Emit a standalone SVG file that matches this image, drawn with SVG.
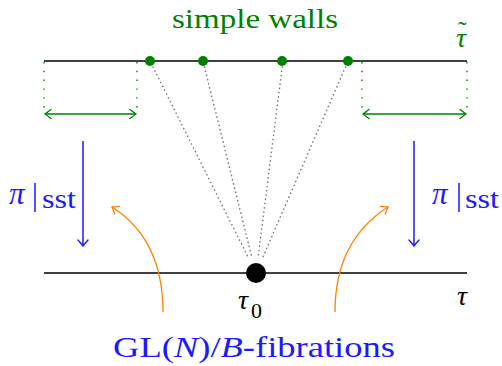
<svg xmlns="http://www.w3.org/2000/svg" width="502" height="366" viewBox="0 0 502 366">
<style>
.serif{font-family:"Liberation Serif","Times New Roman",serif}
.it{font-style:italic}
.axis{stroke:#000;stroke-width:1.3;fill:none}
.gdot{stroke:#008000;stroke-width:1.4;stroke-dasharray:1.4 7.4;fill:none}
.gray{stroke:#777;stroke-width:1.6;stroke-dasharray:0.1 4.2;stroke-linecap:round;fill:none}
.blue{stroke:#1a1aff;stroke-width:1.5;fill:none}
.orange{stroke:#ff8000;stroke-width:1.3;fill:none}
.green{stroke:#008000;stroke-width:1.3;fill:none}
</style>
<defs>
<marker id="hb" markerUnits="userSpaceOnUse" viewBox="-8 -6 10 12" refX="0" refY="0" markerWidth="10" markerHeight="12" orient="auto-start-reverse"><path d="M-6,-5 Q-1.5,-1 0,0 Q-1.5,1 -6,5" stroke="#1a1aff" stroke-width="1.4" fill="none" stroke-linecap="round"/></marker>
<marker id="ho" markerUnits="userSpaceOnUse" viewBox="-8 -6 10 12" refX="0" refY="0" markerWidth="10" markerHeight="12" orient="auto-start-reverse"><path d="M-6,-4.5 Q-1.5,-1 0,0 Q-1.5,1 -6,4.5" stroke="#ff8000" stroke-width="1.3" fill="none" stroke-linecap="round"/></marker>
<marker id="hg" markerUnits="userSpaceOnUse" viewBox="-8 -6 10 12" refX="0" refY="0" markerWidth="10" markerHeight="12" orient="auto-start-reverse"><path d="M-6,-4.5 Q-1.5,-1 0,0 Q-1.5,1 -6,4.5" stroke="#008000" stroke-width="1.3" fill="none" stroke-linecap="round"/></marker>
</defs>

<g id="connectors">
<line class="axis" x1="44" y1="61" x2="467" y2="61"/>
<line class="axis" x1="44" y1="273" x2="467" y2="273"/>
<line class="gdot" x1="44" y1="62" x2="44" y2="108"/>
<line class="gdot" x1="137" y1="62" x2="137" y2="108"/>
<line class="gdot" x1="362" y1="62" x2="362" y2="108"/>
<line class="gdot" x1="467" y1="62" x2="467" y2="108"/>
<line class="green" x1="45" y1="114" x2="136" y2="114" marker-start="url(#hg)" marker-end="url(#hg)"/>
<line class="green" x1="363" y1="114" x2="466" y2="114" marker-start="url(#hg)" marker-end="url(#hg)"/>
<line class="gray" x1="153" y1="67" x2="248.5" y2="258"/>
<line class="gray" x1="204.5" y1="67" x2="252" y2="258"/>
<line class="gray" x1="282.2" y1="67" x2="258" y2="258"/>
<line class="gray" x1="345.5" y1="67" x2="262.5" y2="258"/>
<line class="blue" x1="83" y1="141" x2="83" y2="246" marker-end="url(#hb)"/>
<line class="blue" x1="414" y1="141" x2="414" y2="246" marker-end="url(#hb)"/>
<path class="orange" d="M163,312 C163,262 145,228 112,207" marker-end="url(#ho)"/>
<path class="orange" d="M335,312 C335,262 355,228 388,207" marker-end="url(#ho)"/>
</g>

<g id="walls" fill="#008000">
<circle cx="150" cy="61" r="5"/>
<circle cx="203" cy="61" r="5"/>
<circle cx="282" cy="61" r="5"/>
<circle cx="348" cy="61" r="5"/>
</g>
<g id="tau0node"><circle cx="256" cy="273" r="10" fill="#000"/></g>

<g id="labels">
<text class="serif" x="172" y="28" font-size="28" fill="#008000" textLength="166" lengthAdjust="spacingAndGlyphs">simple walls</text>
<text class="serif it" x="456" y="47" font-size="28" fill="#008000">τ</text>
<text class="serif" x="458" y="39" font-size="26" fill="#008000">˜</text>
<text class="serif it" x="238" y="309" font-size="28" fill="#000">τ</text>
<text class="serif" x="251" y="318" font-size="22" fill="#000">0</text>
<text class="serif it" x="457" y="305" font-size="28" fill="#000">τ</text>
<g fill="#1a1aff">
<text class="serif it" x="9" y="204" font-size="31">π</text>
<line x1="35" y1="183" x2="35" y2="212" stroke="#1a1aff" stroke-width="1.5"/>
<text class="serif" x="42" y="208" font-size="27" textLength="34" lengthAdjust="spacingAndGlyphs">sst</text>
<text class="serif it" x="432" y="204" font-size="31">π</text>
<line x1="459" y1="183" x2="459" y2="212" stroke="#1a1aff" stroke-width="1.5"/>
<text class="serif" x="465" y="208" font-size="27" textLength="34" lengthAdjust="spacingAndGlyphs">sst</text>
<text class="serif" x="113" y="357" font-size="30" textLength="282" lengthAdjust="spacingAndGlyphs">GL(<tspan class="it">N</tspan>)/<tspan class="it">B</tspan>-fibrations</text>
</g>
</g>
</svg>
